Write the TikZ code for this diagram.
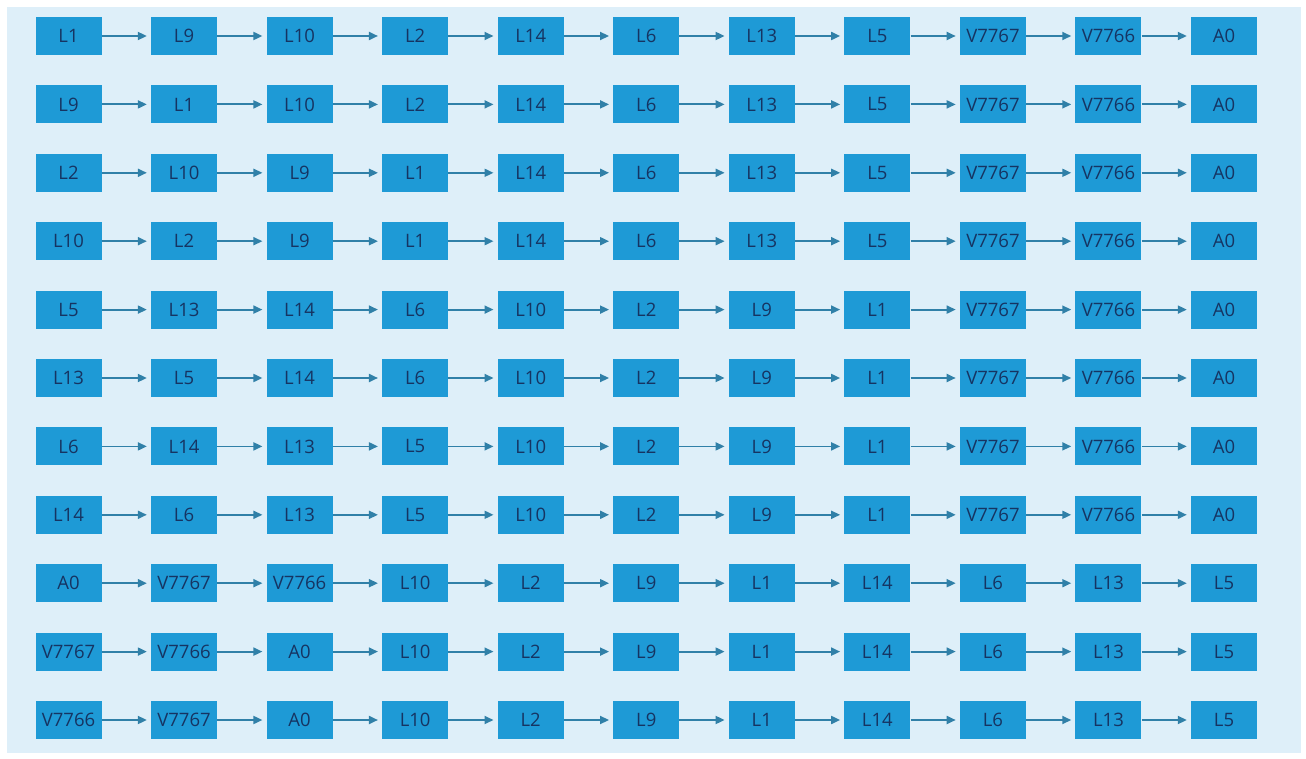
\documentclass[tikz,border=0pt]{standalone}
\usepackage{fontspec}
\setmainfont{Open Sans}
\usetikzlibrary{arrows.meta}
\definecolor{boxblue}{RGB}{30,154,214}
\definecolor{labelnavy}{RGB}{22,52,98}
\definecolor{linkblue}{RGB}{48,128,168}
\definecolor{paneblue}{RGB}{222,239,249}
\begin{document}
\begin{tikzpicture}[
  x=1pt, y=-1pt,
  stage/.style={rectangle, fill=boxblue, text=labelnavy, inner sep=0pt,
    minimum width=66pt, minimum height=38pt, font=\fontsize{18.5}{21}\selectfont},
  link/.style={linkblue, line width=1.8pt, -{Triangle[length=9pt,width=8pt]},
    shorten >=4pt}
]
\useasboundingbox (0,0) rectangle (1306,759);
\fill[paneblue] (7,7) rectangle (1301,753);
% one row per ordering
\foreach \order [count=\r] in {
  {L1,L9,L10,L2,L14,L6,L13,L5,V7767,V7766,A0},
  {L9,L1,L10,L2,L14,L6,L13,L5,V7767,V7766,A0},
  {L2,L10,L9,L1,L14,L6,L13,L5,V7767,V7766,A0},
  {L10,L2,L9,L1,L14,L6,L13,L5,V7767,V7766,A0},
  {L5,L13,L14,L6,L10,L2,L9,L1,V7767,V7766,A0},
  {L13,L5,L14,L6,L10,L2,L9,L1,V7767,V7766,A0},
  {L6,L14,L13,L5,L10,L2,L9,L1,V7767,V7766,A0},
  {L14,L6,L13,L5,L10,L2,L9,L1,V7767,V7766,A0},
  {A0,V7767,V7766,L10,L2,L9,L1,L14,L6,L13,L5},
  {V7767,V7766,A0,L10,L2,L9,L1,L14,L6,L13,L5},
  {V7766,V7767,A0,L10,L2,L9,L1,L14,L6,L13,L5}} {
  \foreach \lab [count=\c] in \order {
    \node[stage] (n-\r-\c) at ({68.5+(\c-1)*115.55}, {36+(\r-1)*68.4}) {\lab};
    \ifnum\c>1
      \pgfmathtruncatemacro\prev{\c-1}
      \draw[link] (n-\r-\prev.east) -- (n-\r-\c.west);
    \fi
  }
}
\end{tikzpicture}
\end{document}
